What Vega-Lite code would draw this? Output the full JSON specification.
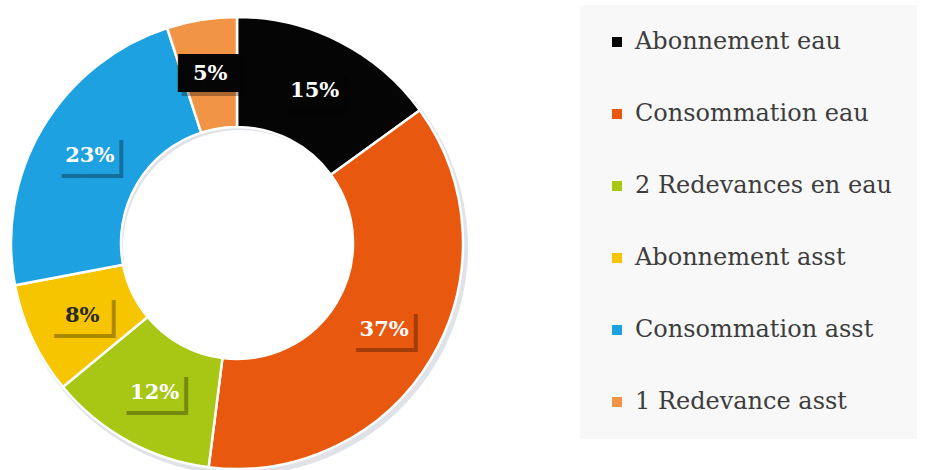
{
  "$schema": "https://vega.github.io/schema/vega-lite/v6.json",
  "width": 454,
  "height": 454,
  "autosize": "none",
  "padding": {"left": 10, "top": 16, "right": 471, "bottom": 0},
  "background": "white",
  "config": {"view": {"stroke": null}},
  "data": {
    "values": [
      {"n": 1, "category": "Abonnement eau", "value": 15, "label": "15%"},
      {"n": 2, "category": "Consommation eau", "value": 37, "label": "37%"},
      {"n": 3, "category": "2 Redevances en eau", "value": 12, "label": "12%"},
      {"n": 4, "category": "Abonnement asst", "value": 8, "label": "8%"},
      {"n": 5, "category": "Consommation asst", "value": 23, "label": "23%"},
      {"n": 6, "category": "1 Redevance asst", "value": 5, "label": "5%"}
    ]
  },
  "encoding": {
    "theta": {"field": "value", "type": "quantitative", "stack": true},
    "order": {"field": "n", "type": "quantitative"}
  },
  "layer": [
    {
      "mark": {"type": "arc", "innerRadius": 117, "outerRadius": 228, "color": "#b8c2cc", "opacity": 0.45, "xOffset": 3, "yOffset": 4},
      "encoding": {"detail": {"field": "category"}}
    },
    {
      "mark": {"type": "arc", "innerRadius": 116, "outerRadius": 226, "stroke": "white", "strokeWidth": 2.5},
      "encoding": {
        "color": {
          "field": "category",
          "type": "nominal",
          "sort": null,
          "scale": {
            "domain": ["Abonnement eau", "Consommation eau", "2 Redevances en eau", "Abonnement asst", "Consommation asst", "1 Redevance asst"],
            "range": ["#050505", "#e8590f", "#a8c614", "#f6c500", "#1ea1e1", "#f29446"]
          },
          "legend": {
            "title": null,
            "orient": "none",
            "legendX": 570,
            "legendY": -11,
            "padding": 25,
            "fillColor": "#f8f8f8",
            "symbolType": "square",
            "symbolSize": 100,
            "symbolStrokeWidth": 0,
            "labelFont": "DejaVu Serif",
            "labelFontSize": 24,
            "labelColor": "#3d3d3d",
            "labelOffset": 6,
            "labelLimit": 400,
            "rowPadding": 48
          }
        }
      }
    },
    {
      "mark": {"type": "text", "radius": 171, "font": "DejaVu Sans", "fontSize": 32, "baseline": "middle", "align": "center", "dx": 9, "dy": 4, "color": "black", "opacity": 0.3},
      "encoding": {"text": {"value": "██▌"}, "detail": {"field": "category"}}
    },
    {
      "mark": {"type": "text", "radius": 171, "font": "DejaVu Sans", "fontSize": 32, "baseline": "middle", "align": "center", "dx": 5},
      "encoding": {
        "text": {"value": "██▌"},
        "color": {
          "condition": {"test": "datum.category === '1 Redevance asst'", "value": "#050505"},
          "field": "category",
          "type": "nominal"
        }
      }
    },
    {
      "mark": {"type": "text", "radius": 171, "font": "DejaVu Serif", "fontWeight": "bold", "fontSize": 21, "baseline": "middle", "align": "center"},
      "encoding": {
        "text": {"field": "label"},
        "detail": {"field": "category"},
        "color": {
          "condition": {"test": "datum.category === 'Abonnement asst'", "value": "#2a2a2a"},
          "value": "white"
        }
      }
    }
  ]
}
